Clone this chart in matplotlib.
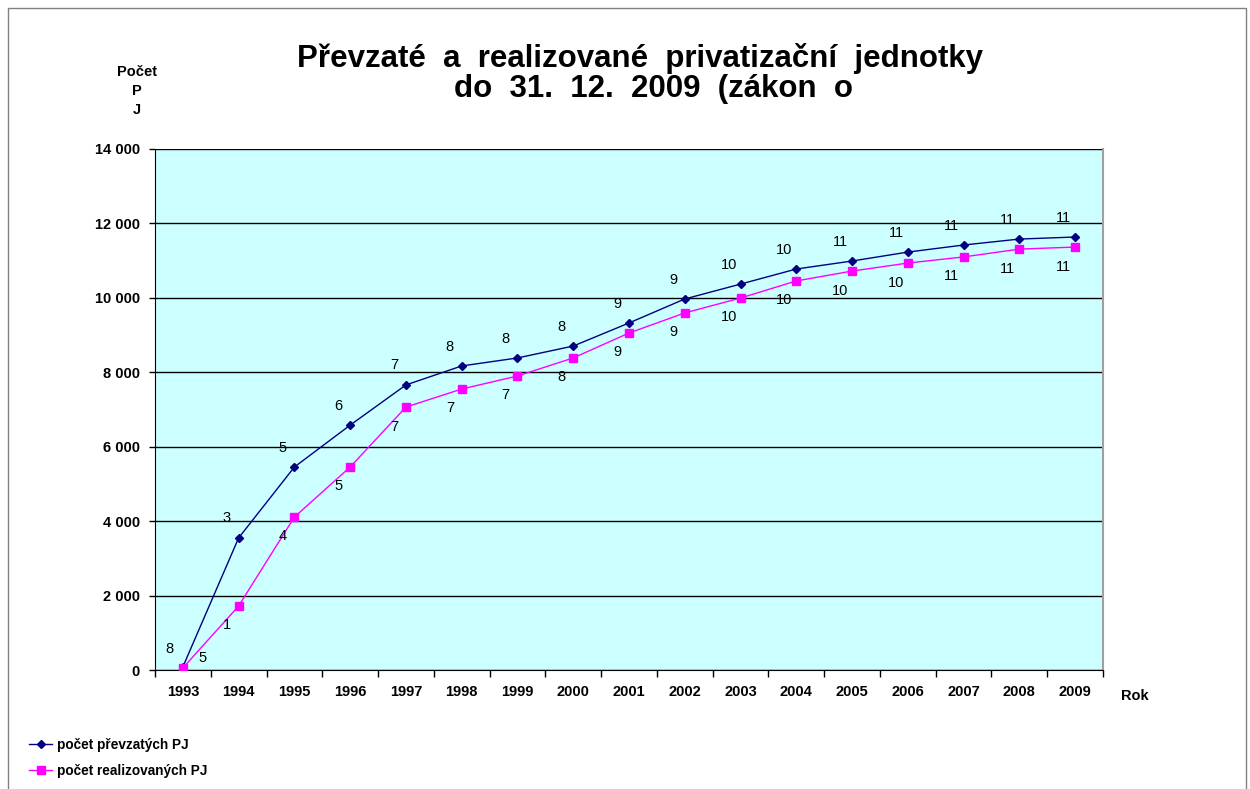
import matplotlib
matplotlib.use("Agg")
import matplotlib.pyplot as plt
from matplotlib.patches import Rectangle
from matplotlib.lines import Line2D

plt.rcParams['font.family'] = ['Liberation Sans', 'DejaVu Sans']

years = [str(y) for y in range(1993, 2010)]
prevzate = [85, 3550, 5455, 6580, 7660, 8170, 8385, 8705, 9325, 9970,
            10370, 10775, 10990, 11230, 11420, 11580, 11635]
realizovane = [55, 1720, 4110, 5455, 7065, 7550, 7900, 8385, 9055, 9595,
               9995, 10455, 10720, 10935, 11100, 11310, 11365]
labels_prevzate = ["8", "3", "5", "6", "7", "8", "8", "8", "9", "9",
                   "10", "10", "11", "11", "11", "11", "11"]
labels_realizovane = ["5", "1", "4", "5", "7", "7", "7", "8", "9", "9",
                      "10", "10", "10", "10", "11", "11", "11"]
yticks = [0, 2000, 4000, 6000, 8000, 10000, 12000, 14000]
ytick_labels = ["0", "2 000", "4 000", "6 000", "8 000", "10 000", "12 000", "14 000"]

W, H = 1250, 789
fig = plt.figure(figsize=(12.5, 7.89), dpi=100)

# outer chart border
fig.patches.append(Rectangle((8 / W, -0.01), (1246 - 8) / W, (H - 8) / H + 0.01,
                             transform=fig.transFigure, fill=False,
                             edgecolor='#808080', linewidth=1.0))

left, right, top, bottom = 155, 1103, 149, 670
ax = fig.add_axes([left / W, 1 - bottom / H, (right - left) / W, (bottom - top) / H])
ax.set_facecolor('#CCFFFF')

x = list(range(len(years)))
ax.plot(x, prevzate, color='#000080', marker='D', markersize=4.5, linewidth=1.0,
        label='počet převzatých PJ', zorder=3)
ax.plot(x, realizovane, color='#FF00FF', marker='s', markersize=6, linewidth=1.0,
        label='počet realizovaných PJ', zorder=3)

lbl_fs = 10.5
for i in range(len(years)):
    if i == 0:
        ax.annotate(labels_prevzate[i], (x[i], prevzate[i]), xytext=(-10, 13),
                    textcoords='offset points', ha='center', va='center', fontsize=lbl_fs)
        ax.annotate(labels_realizovane[i], (x[i], realizovane[i]), xytext=(14, 7),
                    textcoords='offset points', ha='center', va='center', fontsize=lbl_fs)
    else:
        ax.annotate(labels_prevzate[i], (x[i], prevzate[i]), xytext=(-8.5, 14),
                    textcoords='offset points', ha='center', va='center', fontsize=lbl_fs)
        ax.annotate(labels_realizovane[i], (x[i], realizovane[i]), xytext=(-8.5, -14),
                    textcoords='offset points', ha='center', va='center', fontsize=lbl_fs)

ax.set_xlim(-0.5, len(years) - 0.5)
ax.set_ylim(0, 14000)
ax.set_yticks(yticks)
ax.set_yticklabels(ytick_labels, fontsize=10.5, fontweight='bold')
ax.set_xticks(x)
ax.set_xticklabels(years, fontsize=10.5, fontweight='bold')
ax.set_xticks([i - 0.5 for i in range(len(years) + 1)], minor=True)
ax.tick_params(axis='x', which='major', length=0, pad=11)
ax.tick_params(axis='x', which='minor', length=5, direction='out', width=1)
ax.tick_params(axis='y', length=4, direction='out', width=1, pad=7)
ax.grid(axis='y', color='black', linewidth=1.0, zorder=1)
ax.set_axisbelow(True)
ax.spines['top'].set_visible(False)
ax.spines['right'].set_color('#A0A0A0')
ax.spines['right'].set_linewidth(1.5)
ax.spines['left'].set_color('black')
ax.spines['bottom'].set_color('black')

fig.text(1135 / W, 1 - 696 / H, "Rok", fontsize=10.5, fontweight='bold', ha='center', va='center')
fig.text(137 / W, 1 - 91 / H, "Počet\nP\nJ", fontsize=10.5, fontweight='bold',
         ha='center', va='center', linespacing=1.45)

fig.text(640 / W, 1 - 58 / H, "Převzaté  a  realizované  privatizační  jednotky",
         fontsize=22.5, fontweight='bold', ha='center', va='center')
fig.text(654 / W, 1 - 89 / H, "do  31.  12.  2009  (zákon  o",
         fontsize=22.5, fontweight='bold', ha='center', va='center')

handles = [Line2D([], [], color='#000080', marker='D', markersize=4, linewidth=1.0),
           Line2D([], [], color='#FF00FF', marker='s', markersize=5.5, linewidth=1.0)]
fig.legend(handles, ['počet převzatých PJ', 'počet realizovaných PJ'],
           loc='upper left', bbox_to_anchor=(29 / W, 1 - 738 / H), frameon=False,
           prop={'size': 9.8, 'weight': 'bold'}, handlelength=1.7, handletextpad=0.35,
           labelspacing=0.85, borderaxespad=0, borderpad=0)

fig.savefig("out.png", dpi=100, facecolor='white')
